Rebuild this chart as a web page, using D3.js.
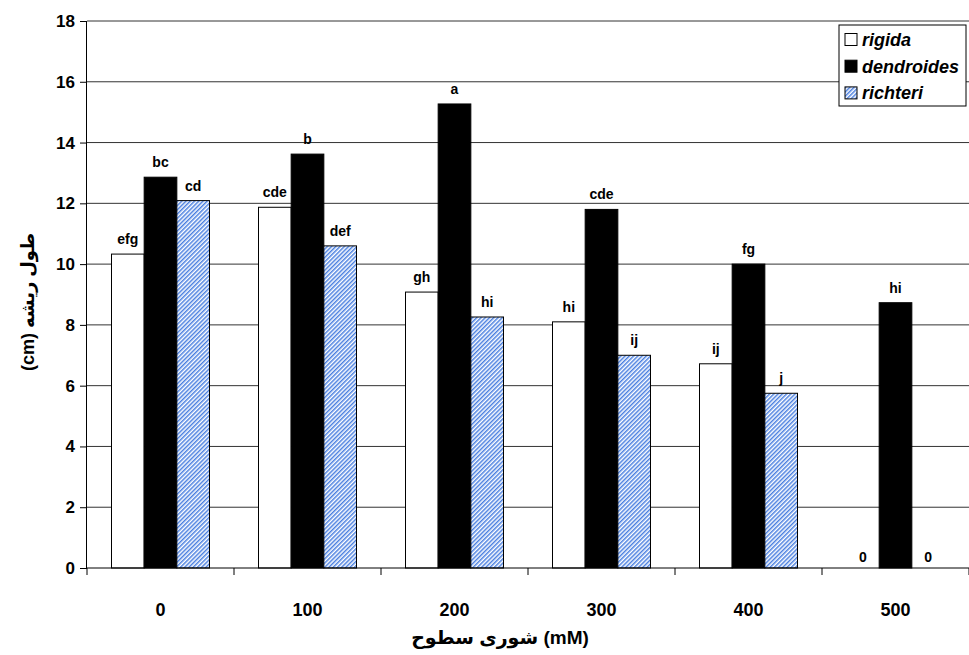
<!DOCTYPE html>
<html><head><meta charset="utf-8">
<script src="https://cdn.jsdelivr.net/npm/d3@7"></script>
<style>
body{margin:0;background:#fff;}
text{font-family:"Liberation Sans",Arial,"DejaVu Sans",sans-serif;}
</style></head>
<body><svg id="c" width="969" height="655"></svg>
<script>
const categories = ["0","100","200","300","400","500"];
const seriesNames = ["rigida","dendroides","richteri"];
const rigida = [10.33, 11.87, 9.08, 8.1, 6.72, 0];
const dendroides = [12.86, 13.62, 15.27, 11.8, 10.0, 8.73];
const richteri = [12.09, 10.6, 8.26, 7.0, 5.75, 0];
const lblRigida = ["efg","cde","gh","hi","ij","0"];
const lblDendroides = ["bc","b","a","cde","fg","hi"];
const lblRichteri = ["cd","def","hi","ij","j","0"];
const yTicks = [0,2,4,6,8,10,12,14,16,18];

const svg = d3.select("#c");
const L = 87, R = 969, T = 21, B = 568;
const defs = svg.append("defs");
const pat = defs.append("pattern").attr("id","hatch").attr("patternUnits","userSpaceOnUse")
  .attr("width",3).attr("height",3).attr("patternTransform","rotate(45)");
pat.append("rect").attr("width",3).attr("height",3).attr("fill","#fff");
pat.append("rect").attr("width",1.5).attr("height",3).attr("fill","#4a7fe0");

const x0 = d3.scaleBand().domain(categories).range([L,R]).paddingInner(0).paddingOuter(0);
const x1 = d3.scaleBand().domain(seriesNames).range([x0.bandwidth()/6, x0.bandwidth()*5/6]);
const y = d3.scaleLinear().domain([0,18]).range([B,T]);

// grid
svg.append("g").selectAll("line").data(yTicks.filter(d=>d>0)).join("line")
  .attr("x1",L).attr("x2",R).attr("y1",d=>y(d)).attr("y2",d=>y(d))
  .attr("stroke","#333").attr("stroke-width",1);

const data = [rigida, dendroides, richteri];
const labels = [lblRigida, lblDendroides, lblRichteri];
const fills = ["#fff","#000","url(#hatch)"];
seriesNames.forEach((s,si)=>{
  const g = svg.append("g");
  g.selectAll("rect").data(categories.map((c,i)=>({c,v:data[si][i]})).filter(d=>d.v>0)).join("rect")
    .attr("x",d=>x0(d.c)+x1(s)).attr("width",x1.bandwidth())
    .attr("y",d=>y(d.v)).attr("height",d=>y(0)-y(d.v))
    .attr("fill",fills[si]).attr("stroke","#000").attr("stroke-width",1);
  g.selectAll("text").data(categories.map((c,i)=>({c,v:data[si][i],l:labels[si][i]}))).join("text")
    .attr("x",d=>x0(d.c)+x1(s)+x1.bandwidth()/2).attr("y",d=>y(d.v)-(d.v>0?10:6))
    .attr("text-anchor","middle").attr("font-size",14).attr("font-weight","bold").text(d=>d.l);
});

// y axis
const ya = svg.append("g").attr("transform",`translate(${L},0)`)
  .call(d3.axisLeft(y).tickValues(yTicks).tickSize(7).tickPadding(5).tickFormat(d3.format("d")));
ya.select(".domain").attr("stroke","#000").attr("d",`M-0.5,${T}V${B}`);
ya.selectAll("text").attr("font-size",17).attr("font-weight","bold").attr("fill","#000");
ya.selectAll("line").attr("stroke","#000");

// x axis
const xa = svg.append("g").attr("transform",`translate(0,${B})`);
xa.append("line").attr("x1",L).attr("x2",R).attr("stroke","#000");
xa.selectAll("line.t").data(categories.map((c)=>x0(c)).concat([R])).join("line").attr("class","t")
  .attr("x1",d=>d).attr("x2",d=>d).attr("y1",0).attr("y2",7).attr("stroke","#000");
xa.selectAll("text").data(categories).join("text")
  .attr("x",d=>x0(d)+x0.bandwidth()/2).attr("y",48).attr("text-anchor","middle")
  .attr("font-size",18).attr("font-weight","bold").text(d=>d);

svg.append("text").attr("x",500).attr("y",644).attr("text-anchor","middle")
  .attr("font-size",19).attr("font-weight","bold").text("سطوح\u200E شوری (mM)");
svg.append("text").attr("transform","translate(34,302) rotate(-90)").attr("text-anchor","middle")
  .attr("font-size",18).attr("font-weight","bold").attr("direction","rtl").text("طول ریشه (cm)");

// legend
const lg = svg.append("g").attr("transform","translate(839,25)");
lg.append("rect").attr("width",127).attr("height",81).attr("fill","#fff").attr("stroke","#000");
seriesNames.forEach((s,i)=>{
  lg.append("rect").attr("x",6).attr("y",8.5+i*26.7).attr("width",12).attr("height",12)
    .attr("fill",fills[i]).attr("stroke","#000");
  lg.append("text").attr("x",23).attr("y",21+i*26.7).attr("font-size",18).attr("font-weight","bold")
    .attr("font-style","italic").text(s);
});
</script></body></html>
